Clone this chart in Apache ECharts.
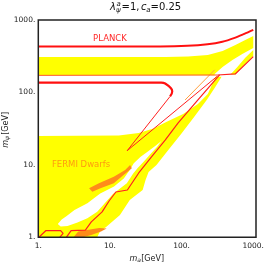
<!DOCTYPE html>
<html><head><meta charset="utf-8">
<script src="https://cdn.jsdelivr.net/npm/echarts@6/dist/echarts.min.js"></script>
<style>html,body{margin:0;padding:0;background:#fff}#c{width:267px;height:264px}</style>
</head><body><div id="c"></div>
<script>
// ---- tick labels ----
const tickValues = [1, 10, 100, 1000];
const tickLabels = ['1.', '10.', '100.', '1000.'];

// ---- curves (m_a [GeV], m_psi [GeV]) ----
const planckTop = [[1,430],[50,432],[120,440],[230,462],[370,500],[550,566],[750,643],[1000,730]];
const planckLoop = [[1,137],[52,137],[59,133],[71,114],[74,103],[69,88]];
const planckVee = [[69,88],[17.4,15.7],[318,169]];
const bandEdgeLeft = [[1,172],[320,174]];
const bandEdgeRight = [[320,174],[560,180],[1000,312]];
const diagonalLow = [[339,175],[169,78.8],[89.5,37.9],[59.3,22.1],[38,12.9],[25.2,7.73],[17.5,4.5],[12.1,4.22],[9.72,3.17],[7.78,2.24],[5.49,1.63],[4.54,1.26],[2.87,1.24],[2.46,1]];
const cornerBox = [[1.02,1],[1.28,1.24],[2.05,1.24],[2.22,1.13],[1.99,1]];
const orangeLine = [[289,205],[112,78.8]];

// ---- regions ----
const yellowBand = [[1,309],[60,309],[123,314],[232,330],[373,374],[563,453],[773,531],[1000,603],[1000,412],[703,340],[512,281],[373,225],[289,180],[289,172],[1,172]];
const yellowSliver = [[481,177],[600,225],[773,300],[1000,386],[1000,319],[798,256],[640,205],[563,177]];
const yellowLower = [[1,25.1],[13.3,25.5],[25.2,27.6],[40.5,31.8],[61,39.1],[105,50.5],[169,69.4],[232,95.3],[299,164],[361,164],[289,115],[224,78.8],[153,47.4],[98.4,26.7],[65.2,16.1],[44.6,9.97],[34.6,7.98],[31.4,6.19],[28.6,4.5],[18.9,3.27],[13.8,2.03],[8.83,1.39],[7.31,1.22],[6.64,1],[1,1]];
const whiteTongue = [[1.87,1.53],[2.12,1.76],[2.49,1.97],[3.2,2.38],[4.84,2.95],[7.31,4.03],[11.4,5.03],[15.6,6.49],[18.9,8.51],[21.5,10.5],[26.8,12.9],[34.6,15.6],[44.6,18.8],[52.2,21.4],[45.3,17.7],[35.7,13.7],[29.5,11.0],[24.4,9.06],[21.1,7.61],[17.2,5.57],[11.0,3.96],[8.29,2.88],[6.64,2.26],[4.84,1.83],[3.52,1.6],[2.56,1.43],[2.05,1.41]];
const orangeUpper = [[5.11,4.75],[7.01,5.57],[11.3,6.87],[16.3,8.51],[19.1,9.97],[20.2,8.98],[15.5,7.25],[11.3,5.57],[7.38,4.75],[5.67,4.26]];
const orangeLower = [[3.1,1],[3.6,1.2],[4.3,1.24],[7.1,1.34],[9.0,1.32],[7.5,1.2],[5.5,1.08],[4.2,1]];

// ---- region labels ----
const labelTexts = ['PLANCK', 'FERMI Dwarfs'];
const labelAt = [[10,548],[3.95,10]];
const labelColors = ['#ff2a2a', '#ff9a10'];

const FONT = '"DejaVu Sans", "Liberation Sans", sans-serif';
const W = 267, H = 264;
const GRID = {left: 38.3, top: 20, right: 11, bottom: 26.7};

function polySeries(pts, color, z) {
  return {
    type: 'custom', coordinateSystem: 'cartesian2d', data: pts, clip: true, z: z,
    silent: true, animation: false, encode: {x: 0, y: 1},
    renderItem: function (params, api) {
      if (params.dataIndex !== 0) return null;
      return {type: 'polygon', shape: {points: pts.map(p => api.coord(p))}, style: {fill: color}};
    }
  };
}
function lineSeries(pts, color, width, smooth, z) {
  return {
    type: 'line', data: pts, showSymbol: false, symbol: 'none', smooth: smooth, clip: true,
    lineStyle: {color: color, width: width}, z: z, silent: true, animation: false
  };
}
const labelSeries = {
  type: 'custom', coordinateSystem: 'cartesian2d', data: labelAt, z: 10, silent: true, animation: false,
  encode: {x: 0, y: 1},
  renderItem: function (params, api) {
    const c = api.coord(labelAt[params.dataIndex]);
    return {type: 'text', x: c[0], y: c[1], style: {
      text: labelTexts[params.dataIndex], fill: labelColors[params.dataIndex],
      font: '8.5px ' + FONT, align: 'center', verticalAlign: 'middle'}};
  }
};

const axisLabelFmt = v => {
  const i = tickValues.findIndex(t => Math.abs(Math.log10(t) - Math.log10(v)) < 1e-6);
  return i >= 0 ? tickLabels[i] : '';
};

const pw = W - GRID.left - GRID.right, ph = H - GRID.top - GRID.bottom;

const option = {
  backgroundColor: '#fff',
  animation: false,
  grid: {left: GRID.left, top: GRID.top, right: GRID.right, bottom: GRID.bottom},
  xAxis: {
    type: 'log', logBase: 10, min: 1, max: 1000,
    axisLine: {show: false}, axisTick: {show: false}, splitLine: {show: false},
    axisLabel: {formatter: axisLabelFmt, fontSize: 7.5, fontFamily: FONT, color: '#222', margin: 5,
      showMinLabel: true, showMaxLabel: true}
  },
  yAxis: {
    type: 'log', logBase: 10, min: 1, max: 1000,
    axisLine: {show: false}, axisTick: {show: false}, splitLine: {show: false},
    axisLabel: {formatter: axisLabelFmt, fontSize: 7.5, fontFamily: FONT, color: '#222', margin: 3,
      showMinLabel: true, showMaxLabel: true}
  },
  series: [
    polySeries(yellowBand, '#ffff00', 1),
    polySeries(yellowSliver, '#ffff00', 1),
    polySeries(yellowLower, '#ffff00', 1),
    polySeries(whiteTongue, '#ffffff', 2),
    polySeries(orangeUpper, '#ff8c1a', 3),
    polySeries(orangeLower, '#ff8c1a', 3),
    lineSeries(orangeLine, '#ffa040', 1, false, 4),
    lineSeries(bandEdgeLeft, '#ff5a2a', 1, false, 5),
    lineSeries(bandEdgeRight, '#ff2020', 1.2, false, 5),
    lineSeries(planckTop, '#ff1010', 2, 0.3, 5),
    lineSeries(planckLoop, '#ff1010', 2.2, 0.4, 5),
    lineSeries(planckVee, '#ff2020', 1, false, 5),
    lineSeries(diagonalLow, '#ff2020', 1.2, false, 5),
    lineSeries(cornerBox, '#ff2020', 1.2, false, 5),
    labelSeries
  ],
  graphic: [
    {type: 'rect', z: 100, silent: true,
     shape: {x: GRID.left, y: GRID.top, width: pw, height: ph},
     style: {fill: null, stroke: '#222', lineWidth: 1.5}},
    // title
    {type: 'text', x: 110, y: 7.5, style: {text: 'λ', font: 'italic 10px ' + FONT, fill: '#111', verticalAlign: 'middle'}},
    {type: 'text', x: 116.5, y: 3.8, style: {text: 'a', font: 'italic 7px ' + FONT, fill: '#111', verticalAlign: 'middle'}},
    {type: 'text', x: 116, y: 10.5, style: {text: 'ψ', font: 'italic 7px ' + FONT, fill: '#111', verticalAlign: 'middle'}},
    {type: 'text', x: 121.5, y: 7.5, style: {text: '=1, ', font: '10px ' + FONT, fill: '#111', verticalAlign: 'middle'}},
    {type: 'text', x: 141, y: 7.5, style: {text: 'c', font: 'italic 10px ' + FONT, fill: '#111', verticalAlign: 'middle'}},
    {type: 'text', x: 146.3, y: 10.5, style: {text: 'a', font: 'italic 7px ' + FONT, fill: '#111', verticalAlign: 'middle'}},
    {type: 'text', x: 150.5, y: 7.5, style: {text: '=0.25', font: '10px ' + FONT, fill: '#111', verticalAlign: 'middle'}},
    // x axis name
    {type: 'text', x: 129.5, y: 258.5, style: {text: 'm', font: 'italic 8px ' + FONT, fill: '#222', verticalAlign: 'middle'}},
    {type: 'text', x: 137.3, y: 260.3, style: {text: 'a', font: 'italic 6px ' + FONT, fill: '#222', verticalAlign: 'middle'}},
    {type: 'text', x: 141.2, y: 258.5, style: {text: '[GeV]', font: '8px ' + FONT, fill: '#222', verticalAlign: 'middle'}},
    // y axis name
    {type: 'group', x: 5.5, y: 130, rotation: Math.PI / 2, children: [
      {type: 'text', x: -17.7, y: 0, style: {text: 'm', font: 'italic 8px ' + FONT, fill: '#222', verticalAlign: 'middle'}},
      {type: 'text', x: -9.9, y: 1.8, style: {text: 'ψ', font: 'italic 6px ' + FONT, fill: '#222', verticalAlign: 'middle'}},
      {type: 'text', x: -4.8, y: 0, style: {text: '[GeV]', font: '8px ' + FONT, fill: '#222', verticalAlign: 'middle'}}
    ]}
  ]
};

const chart = echarts.init(document.getElementById('c'), null, {renderer: 'canvas', width: W, height: H});
chart.setOption(option);
</script>
</body></html>
